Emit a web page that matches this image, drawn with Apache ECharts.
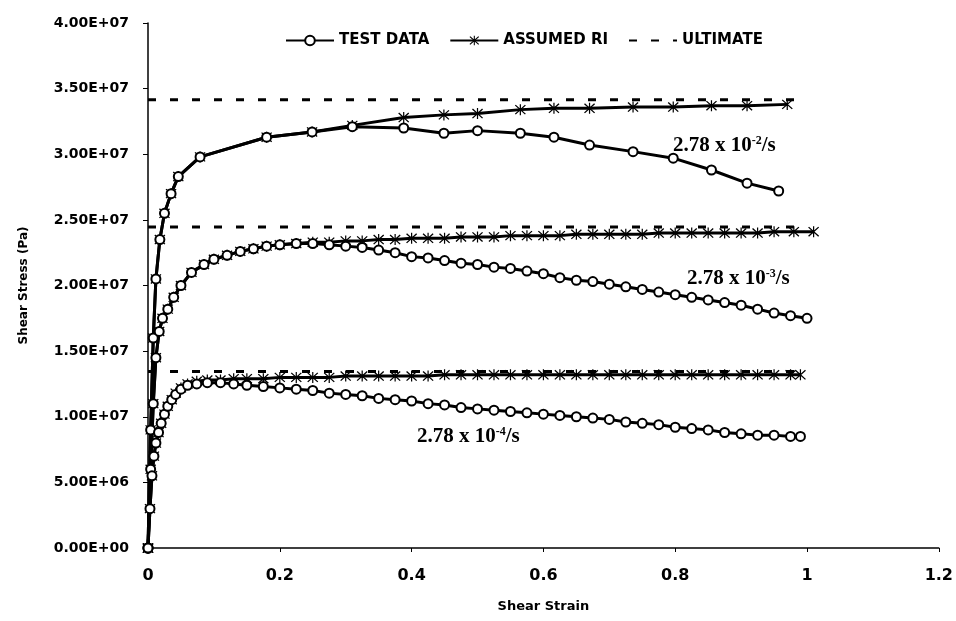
<!DOCTYPE html>
<html>
<head>
<meta charset="utf-8">
<script src="https://cdn.jsdelivr.net/npm/echarts@6/dist/echarts.min.js"></script>
<style>
html,body{margin:0;padding:0;background:#fff;}
#chart{width:956px;height:621px;}
</style>
</head>
<body>
<div id="chart"></div>
<script>
// ---- DATA (stress values in units of 1e7 Pa) ----
const seriesNames = ['TEST DATA', 'ASSUMED RI', 'ULTIMATE'];
const rateLabels = ['-2', '-3', '-4'];

// rate 2.78e-2 /s
const testX_2 = [0, 0.004, 0.008, 0.012, 0.018, 0.025, 0.035, 0.046, 0.079, 0.18, 0.249, 0.31, 0.388, 0.449, 0.5, 0.565, 0.616, 0.67, 0.736, 0.797, 0.855, 0.909, 0.957];
const testY_2 = [0, 0.9, 1.6, 2.05, 2.35, 2.55, 2.7, 2.83, 2.98, 3.13, 3.17, 3.21, 3.2, 3.16, 3.18, 3.16, 3.13, 3.07, 3.02, 2.97, 2.88, 2.78, 2.72];
const riX_2 = [0, 0.004, 0.008, 0.012, 0.018, 0.025, 0.035, 0.046, 0.079, 0.18, 0.249, 0.31, 0.388, 0.449, 0.5, 0.565, 0.616, 0.67, 0.736, 0.797, 0.855, 0.909, 0.97];
const riY_2 = [0, 0.9, 1.6, 2.05, 2.35, 2.55, 2.7, 2.83, 2.98, 3.13, 3.17, 3.22, 3.28, 3.30, 3.31, 3.34, 3.35, 3.35, 3.36, 3.36, 3.37, 3.37, 3.38];

// rate 2.78e-3 /s
const testX_3 = [0, 0.004, 0.008, 0.012, 0.017, 0.022, 0.03, 0.039, 0.05, 0.066, 0.085, 0.1, 0.12, 0.14, 0.16, 0.18, 0.2, 0.225, 0.25, 0.275, 0.3, 0.325, 0.35, 0.375, 0.4, 0.425, 0.45, 0.475, 0.5, 0.525, 0.55, 0.575, 0.6, 0.625, 0.65, 0.675, 0.7, 0.725, 0.75, 0.775, 0.8, 0.825, 0.85, 0.875, 0.9, 0.925, 0.95, 0.975, 1.0];
const testY_3 = [0, 0.6, 1.1, 1.45, 1.65, 1.75, 1.82, 1.91, 2.0, 2.1, 2.16, 2.2, 2.23, 2.26, 2.28, 2.3, 2.31, 2.32, 2.32, 2.31, 2.3, 2.29, 2.27, 2.25, 2.22, 2.21, 2.19, 2.17, 2.16, 2.14, 2.13, 2.11, 2.09, 2.06, 2.04, 2.03, 2.01, 1.99, 1.97, 1.95, 1.93, 1.91, 1.89, 1.87, 1.85, 1.82, 1.79, 1.77, 1.75];
const riX_3 = [0, 0.004, 0.008, 0.012, 0.017, 0.022, 0.03, 0.039, 0.05, 0.066, 0.085, 0.1, 0.12, 0.14, 0.16, 0.18, 0.2, 0.225, 0.25, 0.275, 0.3, 0.325, 0.35, 0.375, 0.4, 0.425, 0.45, 0.475, 0.5, 0.525, 0.55, 0.575, 0.6, 0.625, 0.65, 0.675, 0.7, 0.725, 0.75, 0.775, 0.8, 0.825, 0.85, 0.875, 0.9, 0.925, 0.95, 0.98, 1.01];
const riY_3 = [0, 0.6, 1.1, 1.45, 1.65, 1.75, 1.82, 1.91, 2.0, 2.1, 2.16, 2.2, 2.23, 2.26, 2.28, 2.3, 2.31, 2.32, 2.33, 2.33, 2.34, 2.34, 2.35, 2.35, 2.36, 2.36, 2.36, 2.37, 2.37, 2.37, 2.38, 2.38, 2.38, 2.38, 2.39, 2.39, 2.39, 2.39, 2.39, 2.4, 2.4, 2.4, 2.4, 2.4, 2.4, 2.4, 2.41, 2.41, 2.41];

// rate 2.78e-4 /s
const testX_4 = [0, 0.003, 0.006, 0.009, 0.012, 0.016, 0.02, 0.025, 0.03, 0.036, 0.042, 0.05, 0.06, 0.074, 0.09, 0.11, 0.13, 0.15, 0.175, 0.2, 0.225, 0.25, 0.275, 0.3, 0.325, 0.35, 0.375, 0.4, 0.425, 0.45, 0.475, 0.5, 0.525, 0.55, 0.575, 0.6, 0.625, 0.65, 0.675, 0.7, 0.725, 0.75, 0.775, 0.8, 0.825, 0.85, 0.875, 0.9, 0.925, 0.95, 0.975, 0.99];
const testY_4 = [0, 0.3, 0.55, 0.7, 0.8, 0.88, 0.95, 1.02, 1.08, 1.13, 1.17, 1.21, 1.24, 1.25, 1.26, 1.26, 1.25, 1.24, 1.23, 1.22, 1.21, 1.2, 1.18, 1.17, 1.16, 1.14, 1.13, 1.12, 1.1, 1.09, 1.07, 1.06, 1.05, 1.04, 1.03, 1.02, 1.01, 1.0, 0.99, 0.98, 0.96, 0.95, 0.94, 0.92, 0.91, 0.9, 0.88, 0.87, 0.86, 0.86, 0.85, 0.85];
const riX_4 = testX_4;
const riY_4 = [0, 0.3, 0.55, 0.7, 0.8, 0.88, 0.95, 1.02, 1.08, 1.13, 1.18, 1.22, 1.25, 1.27, 1.28, 1.28, 1.29, 1.29, 1.29, 1.3, 1.3, 1.3, 1.3, 1.31, 1.31, 1.31, 1.31, 1.31, 1.31, 1.32, 1.32, 1.32, 1.32, 1.32, 1.32, 1.32, 1.32, 1.32, 1.32, 1.32, 1.32, 1.32, 1.32, 1.32, 1.32, 1.32, 1.32, 1.32, 1.32, 1.32, 1.32, 1.32];

// ultimate stresses
const ultX = [0, 1.0];
const ultimateLevels = [3.415, 2.445, 1.345];

const SCALE = 1e7;

function pairs(xs, ys) {
  return xs.map((x, i) => [x, ys[i] * SCALE]);
}

const asterisk = 'path://M9,0L11,0L11,20L9,20Z M1,2.5L2.5,1L19,17.5L17.5,19Z M17.5,1L19,2.5L2.5,19L1,17.5Z';

function testSeries(xs, ys) {
  return {
    name: seriesNames[0], type: 'line', data: pairs(xs, ys),
    symbol: 'emptyCircle', symbolSize: 9,
    lineStyle: { color: '#000', width: 3 },
    itemStyle: { color: '#000', borderColor: '#000', borderWidth: 3 },
    z: 3
  };
}
function riSeries(xs, ys) {
  return {
    name: seriesNames[1], type: 'line', data: pairs(xs, ys),
    symbol: asterisk, symbolSize: 11,
    lineStyle: { color: '#000', width: 3 },
    itemStyle: { color: '#000' },
    z: 2
  };
}
function ultSeries(level) {
  return {
    name: seriesNames[2], type: 'line', data: ultX.map(x => [x, level * SCALE]),
    symbol: 'none', showSymbol: false,
    lineStyle: { color: '#000', width: 3, type: [8, 14] },
    itemStyle: { color: '#000' },
    z: 1
  };
}

function yFmt(v) {
  const s = v.toExponential(2).split('e');
  const sign = s[1][0];
  const d = s[1].slice(1).padStart(2, '0');
  return s[0] + 'E' + sign + d;
}

function rateText(sup) {
  return '{a|2.78 x 10}{s|' + sup + '}{a|/s}';
}
const rich = {
  a: { fontFamily: 'Liberation Serif', fontSize: 21, fontWeight: 'bold', fill: '#000', color: '#000', lineHeight: 22 },
  s: { fontFamily: 'Liberation Serif', fontSize: 12, fontWeight: 'bold', fill: '#000', color: '#000', verticalAlign: 'top', lineHeight: 22, padding: [0, 0, 8, 0] }
};

const chart = echarts.init(document.getElementById('chart'), null, { renderer: 'canvas' });
chart.setOption({
  animation: false,
  backgroundColor: '#fff',
  grid: { left: 148, right: 15, top: 23, bottom: 73, containLabel: false },
  legend: {
    data: [
      { name: seriesNames[0] },
      { name: seriesNames[1] },
      { name: seriesNames[2], itemStyle: { opacity: 0 } }
    ],
    left: 280, top: 28,
    itemWidth: 48, itemHeight: 12, itemGap: 20,
    textStyle: { fontFamily: 'DejaVu Sans', fontWeight: 'bold', fontSize: 15, color: '#000' }
  },
  xAxis: {
    type: 'value', min: 0, max: 1.2, interval: 0.2,
    axisLine: { show: true, lineStyle: { color: '#000', width: 1.5 } },
    axisTick: { show: true, length: 4, lineStyle: { color: '#000' } },
    splitLine: { show: false },
    axisLabel: { fontFamily: 'DejaVu Sans', fontWeight: 'bold', fontSize: 16, color: '#000', margin: 20 },
    name: 'Shear Strain', nameLocation: 'middle', nameGap: 52,
    nameTextStyle: { fontFamily: 'DejaVu Sans', fontWeight: 'bold', fontSize: 13, color: '#000' }
  },
  yAxis: {
    type: 'value', min: 0, max: 4e7, interval: 5e6,
    axisLine: { show: true, lineStyle: { color: '#000', width: 1.5 } },
    axisTick: { show: true, length: 5, lineStyle: { color: '#000' } },
    splitLine: { show: false },
    axisLabel: { fontFamily: 'DejaVu Sans', fontWeight: 'bold', fontSize: 14, color: '#000', margin: 19, formatter: yFmt },
    name: 'Shear Stress (Pa)', nameLocation: 'middle', nameGap: 118,
    nameTextStyle: { fontFamily: 'DejaVu Sans', fontWeight: 'bold', fontSize: 12, color: '#000' }
  },
  graphic: [
    { type: 'text', x: 673, y: 146, style: { text: rateText(rateLabels[0]), rich: rich, verticalAlign: 'middle', align: 'left' } },
    { type: 'text', x: 687, y: 279, style: { text: rateText(rateLabels[1]), rich: rich, verticalAlign: 'middle', align: 'left' } },
    { type: 'text', x: 417, y: 437, style: { text: rateText(rateLabels[2]), rich: rich, verticalAlign: 'middle', align: 'left' } }
  ],
  series: [
    ultSeries(ultimateLevels[0]), ultSeries(ultimateLevels[1]), ultSeries(ultimateLevels[2]),
    riSeries(riX_2, riY_2), riSeries(riX_3, riY_3), riSeries(riX_4, riY_4),
    testSeries(testX_2, testY_2), testSeries(testX_3, testY_3), testSeries(testX_4, testY_4)
  ]
});
</script>
</body>
</html>
